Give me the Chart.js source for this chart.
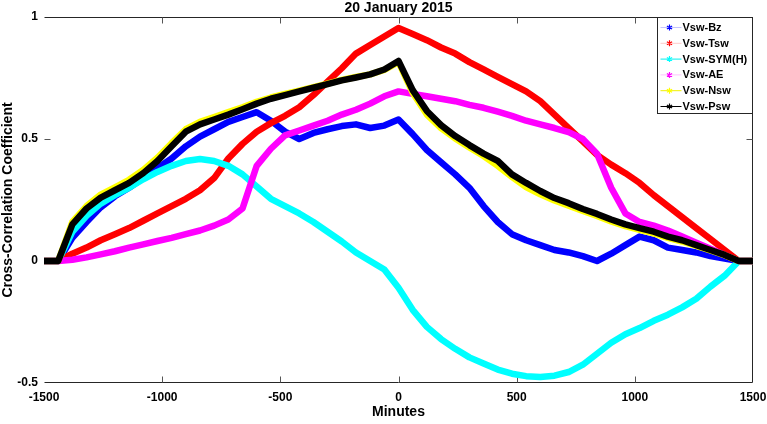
<!DOCTYPE html>
<html lang="en">
<head>
<meta charset="UTF-8">
<title>20 January 2015</title>
<script src="https://cdn.jsdelivr.net/npm/chart.js"></script>
<style>
  html, body { margin: 0; padding: 0; background: #fff; }
  #wrap { width: 767px; height: 424px; }
</style>
</head>
<body>
<div id="wrap"><canvas id="ccChart" width="767" height="424"></canvas></div>
<script>
// lag in minutes
const lags = [-1500, -1440, -1380, -1320, -1260, -1200, -1140, -1080, -1020, -960, -900,
  -840, -780, -720, -660, -600, -540, -480, -420, -360, -300, -240, -180, -120, -60, 0,
  60, 120, 180, 240, 300, 360, 420, 480, 540, 600, 660, 720, 780, 840, 900,
  960, 1020, 1080, 1140, 1200, 1260, 1320, 1380, 1440, 1500];

const vswBz = [0, 0, 0.095, 0.16, 0.22, 0.265, 0.30, 0.34, 0.38, 0.42, 0.47,
  0.51, 0.54, 0.57, 0.59, 0.61, 0.575, 0.53, 0.50, 0.525, 0.54, 0.553, 0.56, 0.545, 0.555, 0.58,
  0.52, 0.455, 0.405, 0.355, 0.30, 0.225, 0.16, 0.11, 0.085, 0.065, 0.045, 0.035, 0.02, 0.0, 0.03,
  0.065, 0.10, 0.085, 0.055, 0.045, 0.035, 0.02, 0.01, 0, 0];

const vswTsw = [0, 0, 0.03, 0.055, 0.085, 0.11, 0.135, 0.165, 0.195, 0.225, 0.255,
  0.29, 0.34, 0.42, 0.48, 0.53, 0.565, 0.595, 0.63, 0.68, 0.735, 0.79, 0.85, 0.885, 0.92, 0.955,
  0.93, 0.905, 0.875, 0.85, 0.815, 0.785, 0.755, 0.725, 0.695, 0.655, 0.60, 0.545, 0.49, 0.435, 0.395,
  0.36, 0.32, 0.27, 0.225, 0.18, 0.135, 0.09, 0.045, 0, 0];

const vswSymH = [0, 0, 0.12, 0.185, 0.235, 0.27, 0.30, 0.335, 0.365, 0.39, 0.41,
  0.418, 0.41, 0.39, 0.355, 0.305, 0.255, 0.225, 0.195, 0.16, 0.12, 0.08, 0.035, 0.0, -0.035, -0.11,
  -0.20, -0.27, -0.32, -0.36, -0.395, -0.42, -0.445, -0.462, -0.472, -0.475, -0.47, -0.455, -0.425, -0.38, -0.335,
  -0.30, -0.275, -0.245, -0.22, -0.19, -0.155, -0.105, -0.06, 0, 0];

const vswAE = [0, 0, 0.005, 0.015, 0.027, 0.04, 0.055, 0.068, 0.082, 0.095, 0.11,
  0.125, 0.145, 0.17, 0.215, 0.39, 0.46, 0.515, 0.535, 0.555, 0.575, 0.60, 0.62, 0.645, 0.675, 0.695,
  0.685, 0.675, 0.665, 0.655, 0.64, 0.628, 0.612, 0.595, 0.575, 0.56, 0.545, 0.528, 0.50, 0.44, 0.30,
  0.195, 0.16, 0.145, 0.125, 0.10, 0.075, 0.05, 0.025, 0, 0];

const vswNsw = [0, 0, 0.16, 0.225, 0.272, 0.302, 0.333, 0.373, 0.423, 0.483, 0.54,
  0.57, 0.59, 0.61, 0.63, 0.652, 0.67, 0.685, 0.698, 0.712, 0.727, 0.742, 0.754, 0.765, 0.783, 0.815,
  0.69, 0.60, 0.545, 0.502, 0.465, 0.43, 0.39, 0.345, 0.303, 0.273, 0.248, 0.227, 0.205, 0.185, 0.162,
  0.143, 0.128, 0.113, 0.095, 0.08, 0.062, 0.043, 0.024, 0, 0];

const vswPsw = [0, 0, 0.15, 0.215, 0.26, 0.29, 0.32, 0.36, 0.41, 0.47, 0.53,
  0.56, 0.58, 0.60, 0.622, 0.645, 0.665, 0.68, 0.695, 0.71, 0.725, 0.74, 0.752, 0.765, 0.785, 0.82,
  0.70, 0.615, 0.557, 0.512, 0.475, 0.44, 0.41, 0.355, 0.32, 0.287, 0.258, 0.237, 0.213, 0.193, 0.17,
  0.15, 0.135, 0.12, 0.10, 0.085, 0.065, 0.045, 0.025, 0, 0];

const xTickValues = [-1500, -1000, -500, 0, 500, 1000, 1500];
const yTickValues = [-0.5, 0, 0.5, 1];

const seriesNames = ['Vsw-Bz', 'Vsw-Tsw', 'Vsw-SYM(H)', 'Vsw-AE', 'Vsw-Nsw', 'Vsw-Psw'];
const seriesValues = [vswBz, vswTsw, vswSymH, vswAE, vswNsw, vswPsw];
const seriesColors = ['#0000ff', '#ff0000', '#00ffff', '#ff00ff', '#ffff00', '#000000'];
// the legend line samples look washed out for some series
const legendLineColors = ['#c4c4ff', '#ffcaca', '#00f0f0', '#ffc4ff', '#f0f000', '#000000'];

const FONT = '"Liberation Sans", Arial, sans-serif';
const AXIS = '#262626';

// frame (top/bottom/right) with inward tick marks, MATLAB style
const framePlugin = {
  id: 'frame',
  beforeDatasetsDraw(chart) {
    const { ctx, chartArea: a, scales: { x, y } } = chart;
    const L = Math.round(a.left) + 0.5, R = Math.round(a.right) - 0.5;
    const T = Math.round(a.top) + 0.5, B = Math.round(a.bottom) - 0.5;
    ctx.save();
    ctx.strokeStyle = AXIS;
    ctx.lineWidth = 1;
    ctx.beginPath();
    ctx.moveTo(L, T); ctx.lineTo(R, T); ctx.lineTo(R, B); ctx.lineTo(L, B);
    ctx.stroke();
    ctx.strokeStyle = '#555';
    ctx.beginPath();
    xTickValues.forEach(v => {
      const px = Math.round(x.getPixelForValue(v)) + 0.5;
      if (px <= L + 1 || px >= R - 1) return;
      ctx.moveTo(px, T); ctx.lineTo(px, T + 6);
      ctx.moveTo(px, B); ctx.lineTo(px, B - 6);
    });
    yTickValues.forEach(v => {
      const py = Math.round(y.getPixelForValue(v)) + 0.5;
      if (py <= T + 1 || py >= B - 1) return;
      ctx.moveTo(L, py); ctx.lineTo(L + 6, py);
      ctx.moveTo(R, py); ctx.lineTo(R - 6, py);
    });
    ctx.stroke();
    ctx.restore();
  }
};

function drawStar(ctx, cx, cy, r, color) {
  ctx.save();
  ctx.strokeStyle = color;
  ctx.lineWidth = 1.2;
  ctx.beginPath();
  for (let k = 0; k < 3; k++) {
    const ang = Math.PI / 2 + k * Math.PI / 3;
    ctx.moveTo(cx - r * Math.cos(ang), cy - r * Math.sin(ang));
    ctx.lineTo(cx + r * Math.cos(ang), cy + r * Math.sin(ang));
  }
  ctx.stroke();
  ctx.restore();
}

const legendPlugin = {
  id: 'boxLegend',
  afterDraw(chart) {
    const { ctx, chartArea: a } = chart;
    const right = Math.round(a.right) - 0.5;
    const top = Math.round(a.top) + 0.5;
    const left = right - 95, bottom = top + 96;
    ctx.save();
    ctx.fillStyle = '#fff';
    ctx.fillRect(left, top, right - left, bottom - top);
    ctx.strokeStyle = AXIS;
    ctx.lineWidth = 1;
    ctx.strokeRect(left, top, right - left, bottom - top);
    ctx.font = 'bold 11px ' + FONT;
    ctx.textBaseline = 'middle';
    ctx.textAlign = 'left';
    seriesNames.forEach((name, i) => {
      const ry = top + 10 + i * 15.8;
      ctx.strokeStyle = legendLineColors[i];
      ctx.lineWidth = 1;
      ctx.beginPath();
      ctx.moveTo(left + 3, ry); ctx.lineTo(left + 24, ry);
      ctx.stroke();
      drawStar(ctx, left + 12, ry, 3, seriesColors[i]);
      ctx.fillStyle = '#000';
      ctx.fillText(name, left + 25, ry + 0.5);
    });
    ctx.restore();
  }
};

const datasets = seriesNames.map((name, i) => ({
  label: name,
  data: lags.map((lag, k) => ({ x: lag, y: seriesValues[i][k] })),
  borderColor: seriesColors[i],
  backgroundColor: seriesColors[i],
  borderWidth: 6.5,
  pointRadius: 0,
  tension: 0,
  borderJoinStyle: 'round',
  borderCapStyle: 'round',
  fill: false,
  order: seriesNames.length - i   // later series drawn on top
}));

new Chart(document.getElementById('ccChart'), {
  type: 'line',
  data: { datasets },
  options: {
    responsive: false,
    animation: false,
    devicePixelRatio: 1,
    layout: { padding: { left: 0, right: 14, top: 0, bottom: 0 } },
    plugins: {
      legend: { display: false },
      tooltip: { enabled: false },
      title: {
        display: true,
        text: '20 January 2015',
        fullSize: false,
        color: '#000',
        font: { family: FONT, size: 14, weight: 'bold' },
        padding: { top: 0, bottom: 0.2 }
      }
    },
    scales: {
      x: {
        type: 'linear',
        min: -1500,
        max: 1500,
        afterBuildTicks(s) { s.ticks = xTickValues.map(v => ({ value: v })); },
        afterFit(s) { s.height = 41; s.paddingLeft = 0; s.paddingRight = 0; },
        ticks: {
          callback: v => String(v),
          color: '#000',
          font: { family: FONT, size: 12, weight: 'bold' },
          padding: 7,
          maxRotation: 0,
          autoSkip: false
        },
        grid: { display: false, drawTicks: false },
        border: { display: false },
        title: {
          display: true,
          text: 'Minutes',
          color: '#000',
          font: { family: FONT, size: 14, weight: 'bold' },
          padding: { top: 0, bottom: 3 }
        }
      },
      y: {
        type: 'linear',
        min: -0.5,
        max: 1,
        afterBuildTicks(s) { s.ticks = yTickValues.map(v => ({ value: v })); },
        afterFit(s) { s.width = 44; s.paddingTop = 0; s.paddingBottom = 0; },
        ticks: {
          callback: v => String(v),
          color: '#000',
          font: { family: FONT, size: 12, weight: 'bold' },
          padding: 6
        },
        grid: { display: false, drawTicks: false },
        border: { display: false },
        title: {
          display: true,
          text: 'Cross-Correlation Coefficient',
          color: '#000',
          font: { family: FONT, size: 14, weight: 'bold' },
          padding: { top: 0, bottom: 0 }
        }
      }
    }
  },
  plugins: [framePlugin, legendPlugin]
});
</script>
</body>
</html>
